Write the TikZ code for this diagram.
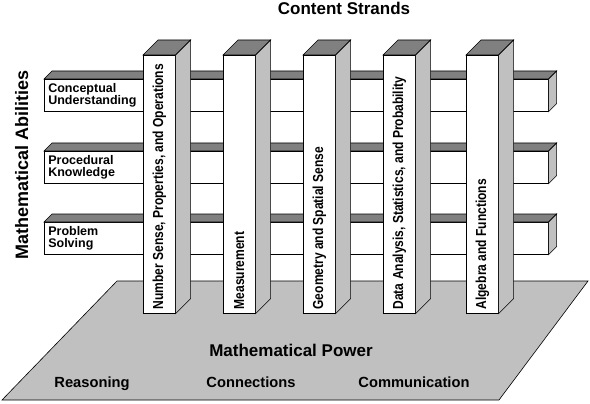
\documentclass[tikz,border=0pt]{standalone}
\usepackage{fontspec}
\setmainfont{Liberation Sans}
\usepackage{graphicx}
\usepackage{tikz}
\usetikzlibrary{positioning}
\definecolor{sidegray}{RGB}{192,192,192}
\definecolor{topgray}{RGB}{128,128,128}
\newcommand{\strand}[1]{\scalebox{0.83}[1]{#1}}
\tikzset{
  front/.style={draw, line width=0.6pt, fill=white, inner sep=0pt},
  sideface/.style={draw, line width=0.6pt, fill=sidegray},
  topface/.style={draw, line width=0.6pt, fill=topgray},
  ability/.style={front, anchor=north west, minimum height=32pt, text width=496pt, inner xsep=4pt, align=left, font=\bfseries\fontsize{12.5}{12.5}\selectfont},
  strandcol/.style={front, anchor=north west, minimum width=32pt, minimum height=258pt},
  strandtxt/.style={rotate=90, anchor=west, inner sep=0pt, font=\bfseries\fontsize{14.5}{15}\selectfont},
  heading/.style={anchor=base, font=\bfseries\fontsize{17}{17}\selectfont},
  power/.style={anchor=base, font=\bfseries\fontsize{14.7}{14.7}\selectfont}
}

\begin{document}
\begin{tikzpicture}[x=1pt,y=-1pt]
\useasboundingbox (0,0) rectangle (590,404);
\draw[sideface] (117,281) -- (588,281) -- (499,400) -- (2,400) -- cycle;

\node[ability] (cu) at (44,79) {Conceptual\\Understanding};
\draw[topface] (cu.north west) -- ++(8,-8) -- ([shift={(8,-8)}]cu.north east) -- (cu.north east) -- cycle;
\draw[sideface] (cu.north east) -- ++(8,-8) -- ([shift={(8,-8)}]cu.south east) -- (cu.south east) -- cycle;
\node[ability] (pk) at (44,151) {Procedural\\Knowledge};
\draw[topface] (pk.north west) -- ++(8,-8) -- ([shift={(8,-8)}]pk.north east) -- (pk.north east) -- cycle;
\draw[sideface] (pk.north east) -- ++(8,-8) -- ([shift={(8,-8)}]pk.south east) -- (pk.south east) -- cycle;
\node[ability] (ps) at (44,222) {Problem\\Solving};
\draw[topface] (ps.north west) -- ++(8,-8) -- ([shift={(8,-8)}]ps.north east) -- (ps.north east) -- cycle;
\draw[sideface] (ps.north east) -- ++(8,-8) -- ([shift={(8,-8)}]ps.south east) -- (ps.south east) -- cycle;

\node[strandcol] (nso) at (143,55) {};
\draw[topface] (nso.north west) -- ++(15,-15) -- ([shift={(15,-15)}]nso.north east) -- (nso.north east) -- cycle;
\draw[sideface] (nso.north east) -- ++(15,-15) -- ([shift={(15,-15)}]nso.south east) -- (nso.south east) -- cycle;
\node[strandtxt] (nsot) at ([yshift=4pt]nso.south) {\strand{Number Sense, Properties, and Operations}};

\node[strandcol] (mea) at (223,55) {};
\draw[topface] (mea.north west) -- ++(15,-15) -- ([shift={(15,-15)}]mea.north east) -- (mea.north east) -- cycle;
\draw[sideface] (mea.north east) -- ++(15,-15) -- ([shift={(15,-15)}]mea.south east) -- (mea.south east) -- cycle;
\node[strandtxt] (meat) at ([yshift=4pt]mea.south) {\strand{Measurement}};

\node[strandcol] (gss) at (303,55) {};
\draw[topface] (gss.north west) -- ++(15,-15) -- ([shift={(15,-15)}]gss.north east) -- (gss.north east) -- cycle;
\draw[sideface] (gss.north east) -- ++(15,-15) -- ([shift={(15,-15)}]gss.south east) -- (gss.south east) -- cycle;
\node[strandtxt] (gsst) at ([yshift=4pt]gss.south) {\strand{Geometry and Spatial Sense}};

\node[strandcol] (dasp) at (383,55) {};
\draw[topface] (dasp.north west) -- ++(15,-15) -- ([shift={(15,-15)}]dasp.north east) -- (dasp.north east) -- cycle;
\draw[sideface] (dasp.north east) -- ++(15,-15) -- ([shift={(15,-15)}]dasp.south east) -- (dasp.south east) -- cycle;
\node[strandtxt] (daspt) at ([yshift=4pt]dasp.south) {\strand{Data Analysis, Statistics, and Probability}};

\node[strandcol] (alf) at (466,55) {};
\draw[topface] (alf.north west) -- ++(15,-15) -- ([shift={(15,-15)}]alf.north east) -- (alf.north east) -- cycle;
\draw[sideface] (alf.north east) -- ++(15,-15) -- ([shift={(15,-15)}]alf.south east) -- (alf.south east) -- cycle;
\node[strandtxt] (alft) at ([yshift=4pt]alf.south) {\strand{Algebra and Functions}};

\node[heading] (cs) at (344,15) {Content Strands};
\node[heading, rotate=90, font=\bfseries\fontsize{18}{18}\selectfont] (ma) at (28,165) {Mathematical Abilities};
\node[heading] (mp) at (291,356) {Mathematical Power};
\node[power] (re) at (92,387) {Reasoning};
\node[power] (co) at (251,387) {Connections};
\node[power] (cm) at (414,387) {Communication};
\end{tikzpicture}
\end{document}
